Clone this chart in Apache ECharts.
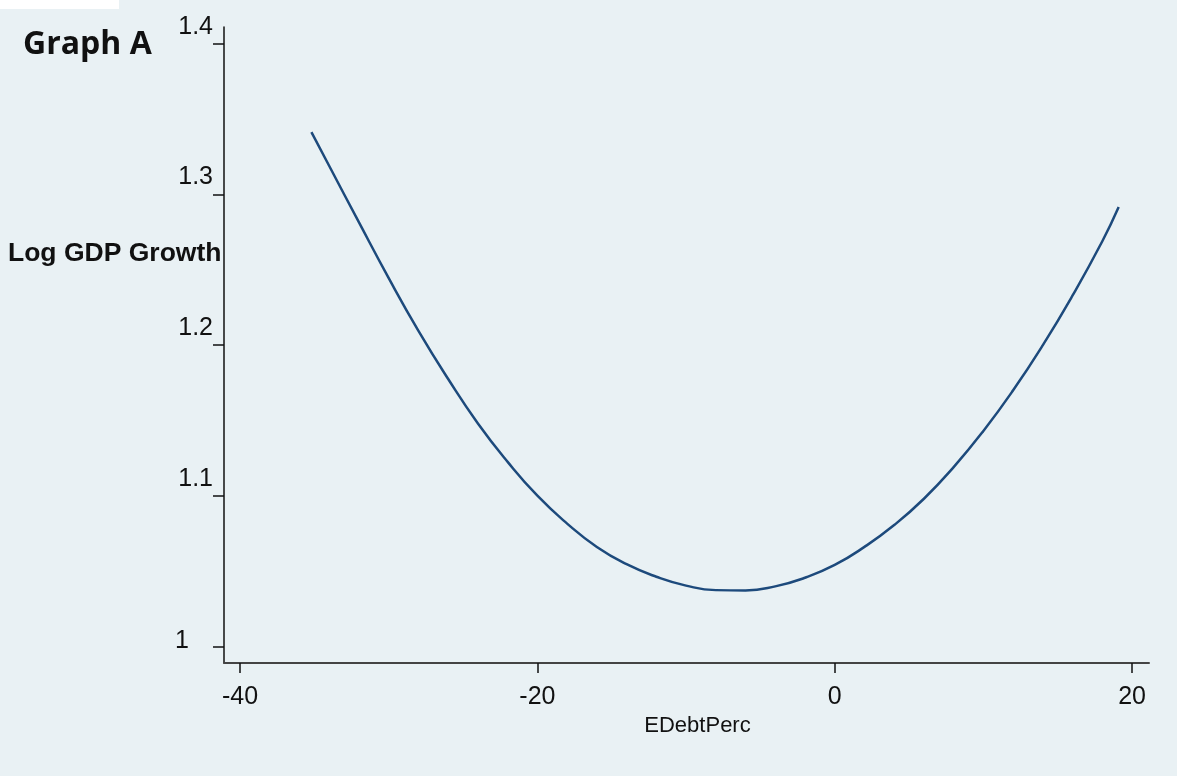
<!DOCTYPE html>
<html>
<head>
<meta charset="utf-8">
<script src="https://cdn.jsdelivr.net/npm/echarts@6/dist/echarts.min.js"></script>
<style>
html,body{margin:0;padding:0;background:#e9f1f4;}
#chart{width:1177px;height:776px;}
</style>
</head>
<body>
<div id="chart"></div>
<script>
// Data
const xValues = [-35.2, -34, -32, -30, -28, -26, -24, -22, -20, -18, -16, -14, -12, -10, -8, -6, -4, -2, 0, 2, 4, 6, 8, 10, 12, 14, 16, 18, 19.1];
const yValues = [1.3415, 1.319, 1.2815, 1.2445, 1.2095, 1.1775, 1.148, 1.1225, 1.100, 1.0815, 1.066, 1.0545, 1.0462, 1.0403, 1.0373, 1.0371, 1.0398, 1.0455, 1.054, 1.066, 1.0805, 1.098, 1.119, 1.143, 1.170, 1.200, 1.233, 1.269, 1.2917];
const xTicks = [-40, -20, 0, 20];
const yTicks = [1, 1.1, 1.2, 1.3, 1.4];

const points = xValues.map((x, i) => [x, yValues[i]]);

const chart = echarts.init(document.getElementById('chart'));
chart.setOption({
  backgroundColor: '#e9f1f4',
  animation: false,
  grid: { left: 224, right: 28, top: 27, bottom: 113 },
  xAxis: {
    type: 'value',
    min: -41.08, max: 21.14,
    name: 'EDebtPerc',
    nameLocation: 'middle',
    nameGap: 51,
    nameTextStyle: { fontFamily: 'Liberation Sans', fontSize: 22, color: '#111', padding: [0, 0, 0, 22] },
    splitLine: { show: false },
    axisLine: { show: true, onZero: false, lineStyle: { color: '#444', width: 2 } },
    axisTick: { show: true, length: 10, customValues: xTicks, lineStyle: { color: '#111', width: 1.5 } },
    axisLabel: { customValues: xTicks, margin: 22, fontFamily: 'Liberation Sans', fontSize: 25, color: '#111' }
  },
  yAxis: {
    type: 'value',
    min: 0.9889, max: 1.4113,
    splitLine: { show: false },
    axisLine: { show: true, onZero: false, lineStyle: { color: '#111', width: 1.5 } },
    axisTick: { show: true, length: 11, customValues: yTicks, lineStyle: { color: '#111', width: 1.5 } },
    axisLabel: {
      customValues: yTicks,
      margin: 11,
      formatter: v => (Math.abs(v - 1) < 1e-9 ? '{b|1}' : '{a|' + v.toFixed(1) + '}'),
      rich: {
        a: { fontFamily: 'Liberation Sans', fontSize: 25, color: '#111', padding: [0, 0, 34, 0] },
        b: { fontFamily: 'Liberation Sans', fontSize: 25, color: '#111', padding: [0, 24, 10, 0] }
      }
    }
  },
  series: [{
    type: 'line',
    data: points,
    showSymbol: false,
    smooth: true,
    lineStyle: { color: '#1d4a7c', width: 2.5 }
  }],
  graphic: [
    { type: 'rect', left: 0, top: 0, shape: { width: 119, height: 9 }, style: { fill: '#ffffff' } },
    { type: 'text', left: 23, top: 29, style: { text: 'Graph A', fontFamily: 'Open Sans', fontWeight: 'bold', fontSize: 32, fill: '#111' } },
    { type: 'text', left: 8, top: 240, style: { text: 'Log GDP Growth', fontFamily: 'Liberation Sans', fontWeight: 'bold', fontSize: 26.5, fill: '#111' } }
  ]
});
</script>
</body>
</html>
